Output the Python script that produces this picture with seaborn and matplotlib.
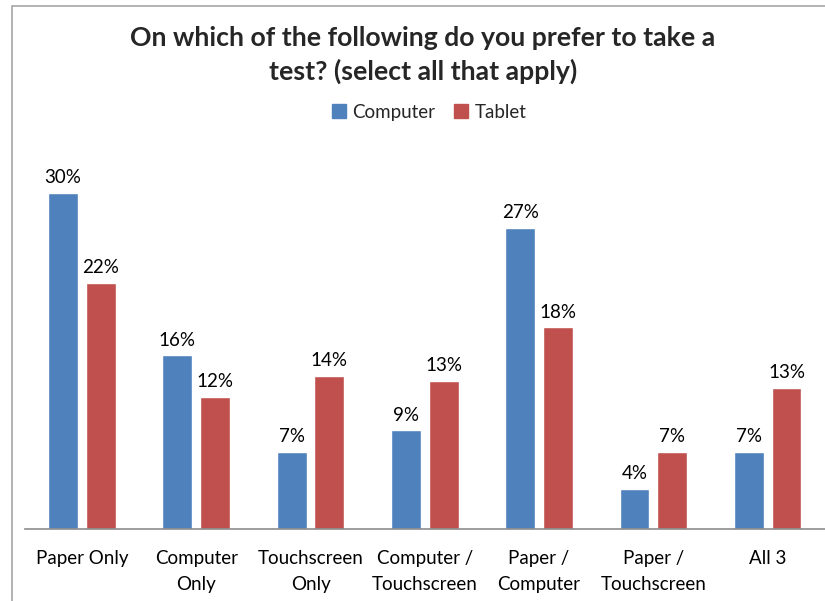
import matplotlib
matplotlib.use("Agg")
import matplotlib.pyplot as plt
import seaborn as sns
import pandas as pd
from matplotlib.patches import Rectangle

categories = ["Paper Only", "Computer\nOnly", "Touchscreen\nOnly", "Computer /\nTouchscreen",
              "Paper /\nComputer", "Paper /\nTouchscreen", "All 3"]
computer = [30.0, 15.5, 6.9, 8.8, 26.9, 3.6, 6.9]
tablet = [22.0, 11.8, 13.7, 13.2, 18.0, 6.9, 12.6]
series = ["Computer", "Tablet"]
colors = ["#4F81BD", "#C0504D"]
title = "On which of the following do you prefer to take a\ntest? (select all that apply)"

df = pd.DataFrame({
    "category": categories * 2,
    "value": computer + tablet,
    "series": [series[0]] * len(categories) + [series[1]] * len(categories),
})

sns.set_theme(style="white")
plt.rcParams["font.family"] = ["Lato", "DejaVu Sans"]

W, H = 825, 601
fig = plt.figure(figsize=(W / 100, H / 100), dpi=100)
ax = fig.add_axes([24.8 / W, (H - 529) / H, 800 / W, 380.8 / H])

sns.barplot(data=df, x="category", y="value", hue="series", order=categories,
            hue_order=series, palette=colors, width=0.66, gap=0.21,
            saturation=1, ax=ax, legend=False, errorbar=None)

ax.set_xlim(-0.5, 6.5)
ax.set_ylim(0, 34)
for s in ["top", "right", "left"]:
    ax.spines[s].set_visible(False)
ax.spines["bottom"].set_color("#8C8C8C")
ax.spines["bottom"].set_linewidth(1.2)
ax.set_yticks([])
ax.set_xlabel("")
ax.set_ylabel("")
ax.tick_params(axis="x", length=0, pad=15, labelsize=13.5, colors="black")
for lbl in ax.get_xticklabels():
    lbl.set_linespacing(1.65)

for cont in ax.containers:
    for bar in cont:
        h = bar.get_height()
        ax.text(bar.get_x() + bar.get_width() / 2, h + 0.6, f"{h:.0f}%",
                ha="center", va="bottom", fontsize=13.5, color="black")

fig.text(423 / W, 1 - 55 / H, title, ha="center", va="center", fontsize=19.2,
         fontweight="bold", linespacing=1.4)

handles = [Rectangle((0, 0), 1, 1, color=c) for c in colors]
fig.legend(handles, series, loc="center", bbox_to_anchor=(429 / W, 1 - 112 / H),
           ncol=2, frameon=False, fontsize=13.5, handlelength=0.75, handleheight=0.75,
           handletextpad=0.35, columnspacing=1.0)

fig.patches.append(Rectangle((12 / W, -0.05), 1.1, 1 - 6 / H + 0.05, transform=fig.transFigure,
                             fill=False, edgecolor="#A6A6A6", linewidth=1.2))

fig.savefig("out.png", dpi=100)
